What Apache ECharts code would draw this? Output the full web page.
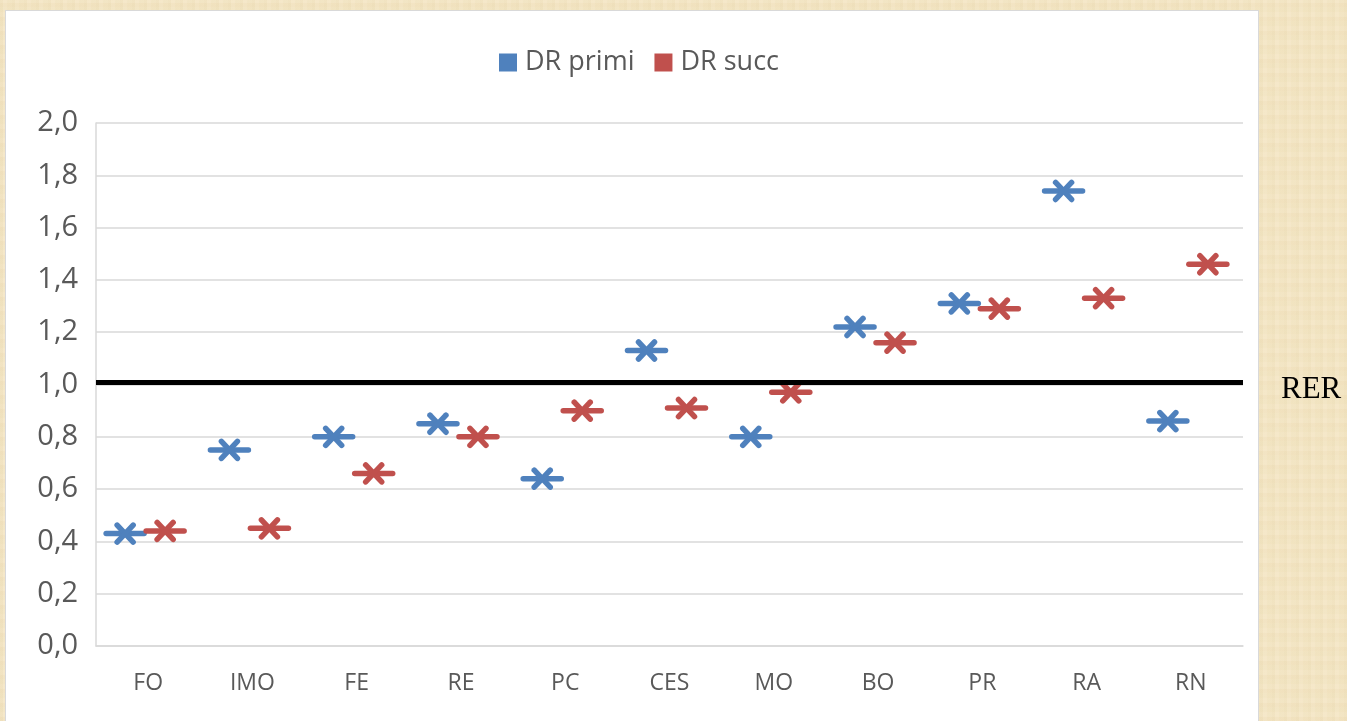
<!DOCTYPE html>
<html>
<head>
<meta charset="utf-8">
<script src="https://cdn.jsdelivr.net/npm/echarts@6/dist/echarts.min.js"></script>
<style>
  html, body { margin: 0; padding: 0; width: 1347px; height: 721px; overflow: hidden; }
  body {
    background-color: #f3e6c5;
    background-image:
      repeating-linear-gradient(90deg, rgba(205,178,120,0.07) 0 3px, rgba(255,250,235,0.05) 3px 7px, rgba(215,188,130,0.04) 7px 12px),
      repeating-linear-gradient(0deg, rgba(205,178,120,0.05) 0 4px, rgba(255,250,235,0.05) 4px 9px, rgba(215,188,130,0.03) 9px 14px);
  }
  #panel {
    position: absolute; left: 5px; top: 10px; width: 1254px; height: 730px;
    background: #ffffff; border: 1px solid #d9d9d9; box-sizing: border-box;
  }
  #chart { position: absolute; left: 0; top: 0; width: 1347px; height: 721px; }
</style>
</head>
<body>
<div id="panel"></div>
<div id="chart"></div>
<script>
// Categories and the two DR series
const categories = ['FO', 'IMO', 'FE', 'RE', 'PC', 'CES', 'MO', 'BO', 'PR', 'RA', 'RN'];
const drPrimi = [0.43, 0.75, 0.80, 0.85, 0.64, 1.13, 0.80, 1.22, 1.31, 1.74, 0.86];
const drSucc  = [0.44, 0.45, 0.66, 0.80, 0.90, 0.91, 0.97, 1.16, 1.29, 1.33, 1.46];
const rerLevel = 1.01;
const yTicks = { min: 0, max: 2, interval: 0.2 };

const BLUE = '#4f81bd';
const RED = '#c0504d';
const LABEL = '#595959';
const GRID = '#d9d9d9';
const FONT = '"Open Sans", "Noto Sans", sans-serif';

// Star-with-dash marker: a horizontal dash crossed by two diagonals
function starDash(shift, color) {
  return function (params, api) {
    const c = api.coord([api.value(0), api.value(1)]);
    const x = c[0] + shift, y = c[1];
    const style = { stroke: color, lineWidth: 5.5, lineCap: 'round' };
    return {
      type: 'group',
      children: [
        { type: 'line', shape: { x1: x - 19, y1: y, x2: x + 19, y2: y }, style: style },
        { type: 'line', shape: { x1: x - 8, y1: y - 8.5, x2: x + 8, y2: y + 8.5 }, style: style },
        { type: 'line', shape: { x1: x - 8, y1: y + 8.5, x2: x + 8, y2: y - 8.5 }, style: style }
      ]
    };
  };
}

const chart = echarts.init(document.getElementById('chart'), null, { renderer: 'canvas' });

chart.setOption({
  backgroundColor: 'transparent',
  animation: false,
  textStyle: { fontFamily: FONT },
  legend: {
    left: 494,
    top: 44,
    itemWidth: 18,
    itemHeight: 18,
    itemGap: 20,
    textStyle: { fontSize: 27, color: LABEL, fontFamily: FONT, padding: [0, 0, 0, 3] },
    data: [
      { name: 'DR primi', icon: 'rect' },
      { name: 'DR succ', icon: 'rect' }
    ]
  },
  grid: { left: 96, top: 123, right: 104, bottom: 75 },
  xAxis: {
    type: 'category',
    data: categories,
    boundaryGap: true,
    axisLine: { show: true, lineStyle: { color: GRID, width: 1.5 } },
    axisTick: { show: false },
    axisLabel: { color: LABEL, fontSize: 23, fontFamily: FONT, margin: 26 },
    splitLine: { show: false }
  },
  yAxis: {
    type: 'value',
    min: yTicks.min,
    max: yTicks.max,
    interval: yTicks.interval,
    axisLine: { show: true, lineStyle: { color: GRID, width: 1.5 } },
    axisTick: { show: false },
    axisLabel: {
      color: LABEL, fontSize: 29, fontFamily: FONT, margin: 18,
      formatter: v => v.toFixed(1).replace('.', ',')
    },
    splitLine: { show: true, lineStyle: { color: GRID, width: 1.5 } }
  },
  graphic: [
    {
      type: 'text',
      left: 1281,
      top: 374,
      style: { text: 'RER', fill: '#000000', font: '31px "Liberation Serif", "Times New Roman", serif' }
    }
  ],
  series: [
    {
      name: 'DR primi',
      type: 'custom',
      itemStyle: { color: BLUE },
      encode: { x: 0, y: 1 },
      data: drPrimi.map((v, i) => [i, v]),
      renderItem: starDash(-23, BLUE),
      z: 3,
      markLine: {
        silent: true,
        symbol: ['none', 'none'],
        label: { show: false },
        lineStyle: { color: '#000000', width: 5, type: 'solid' },
        data: [{ yAxis: rerLevel }]
      }
    },
    {
      name: 'DR succ',
      type: 'custom',
      itemStyle: { color: RED },
      encode: { x: 0, y: 1 },
      data: drSucc.map((v, i) => [i, v]),
      renderItem: starDash(17, RED),
      z: 3
    }
  ]
});
</script>
</body>
</html>
